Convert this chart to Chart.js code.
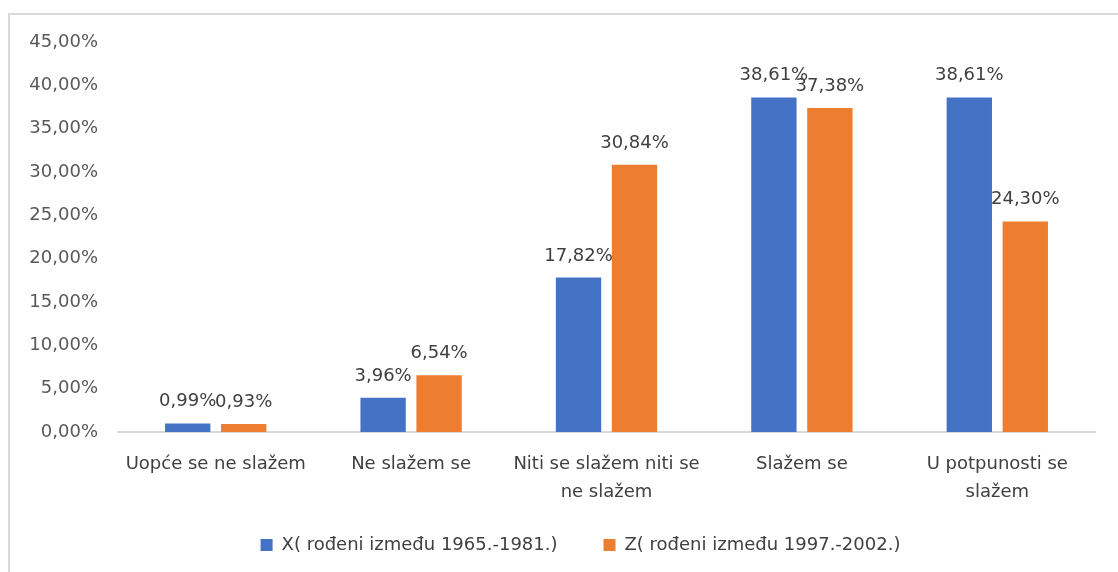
<!DOCTYPE html>
<html>
<head>
<meta charset="utf-8">
<script src="https://cdn.jsdelivr.net/npm/chart.js@4.4.1/dist/chart.umd.min.js"></script>
<style>
    html, body { margin: 0; padding: 0; background: #fff; overflow: hidden; }
    #frame { position: absolute; left: 8px; top: 13px; width: 1200px; height: 700px; border: 2px solid #d9d9d9; box-sizing: border-box; }
    #wrap { position: absolute; left: 0; top: 0; width: 1160px; height: 572px; }
</style>
</head>
<body>
<div id="frame"></div>
<div id="wrap"><canvas id="agreeChart" width="1160" height="572"></canvas></div>
<script>
    // kategorije odgovora
    const categories = [
        'Uopće se ne slažem',
        'Ne slažem se',
        ['Niti se slažem niti se', 'ne slažem'],
        'Slažem se',
        ['U potpunosti se', 'slažem']
    ];
    const seriesNames = ['X( rođeni između 1965.-1981.)', 'Z( rođeni između 1997.-2002.)'];
    const genX = [0.99, 3.96, 17.82, 38.61, 38.61];
    const genZ = [0.93, 6.54, 30.84, 37.38, 24.30];
    const yMax = 45;
    const yStep = 5;

    const fmt = v => v.toFixed(2).replace('.', ',') + '%';
    const FONT = 'DejaVu Sans';

    // labels above bars
    const barLabels = {
        id: 'barLabels',
        afterDatasetsDraw(chart) {
            const ctx = chart.ctx;
            ctx.save();
            ctx.font = '18px "' + FONT + '"';
            ctx.fillStyle = '#404040';
            ctx.textAlign = 'center';
            ctx.textBaseline = 'alphabetic';
            chart.data.datasets.forEach((ds, i) => {
                chart.getDatasetMeta(i).data.forEach((bar, j) => {
                    ctx.fillText(fmt(ds.data[j]), bar.x, bar.y - 17);
                });
            });
            ctx.restore();
        }
    };

    const ctx = document.getElementById('agreeChart').getContext('2d');
    new Chart(ctx, {
        type: 'bar',
        data: {
            labels: categories,
            datasets: [
                {
                    label: seriesNames[0],
                    data: genX,
                    backgroundColor: '#4472C4',
                    categoryPercentage: 0.573,
                    barPercentage: 0.81
                },
                {
                    label: seriesNames[1],
                    data: genZ,
                    backgroundColor: '#ED7D31',
                    categoryPercentage: 0.573,
                    barPercentage: 0.81
                }
            ]
        },
        options: {
            responsive: false,
            animation: false,
            layout: {
                padding: { left: 20, right: 19, top: 42, bottom: 8 }
            },
            plugins: {
                legend: {
                    display: true,
                    position: 'bottom',
                    labels: {
                        boxWidth: 12,
                        boxHeight: 12,
                        padding: 10,
                        color: '#404040',
                        font: { family: FONT, size: 18 },
                        generateLabels(chart) {
                            const items = Chart.defaults.plugins.legend.labels.generateLabels(chart);
                            // extra space between the two entries
                            items[0].text = items[0].text + '\u2003\u2003';
                            return items;
                        }
                    }
                },
                tooltip: { enabled: false }
            },
            scales: {
                y: {
                    min: 0,
                    max: yMax,
                    ticks: {
                        stepSize: yStep,
                        padding: 20,
                        color: '#595959',
                        font: { family: FONT, size: 18 },
                        callback: v => fmt(v)
                    },
                    grid: { display: false, drawTicks: false },
                    border: { display: false },
                    afterFit(scale) { scale.width = 98; }
                },
                // empty space on the right, keeps the legend centred like the original
                yRight: {
                    position: 'right',
                    display: true,
                    ticks: { display: false },
                    grid: { display: false, drawTicks: false },
                    border: { display: false },
                    afterFit(scale) { scale.width = 46; }
                },
                x: {
                    ticks: {
                        padding: 18,
                        color: '#404040',
                        maxRotation: 0,
                        autoSkip: false,
                        font: { family: FONT, size: 18, lineHeight: 1.55 }
                    },
                    grid: { display: false, drawTicks: false },
                    border: { display: true, color: '#d9d9d9', width: 2 },
                    afterFit(scale) { scale.height = 94; }
                }
            }
        },
        plugins: [barLabels]
    });
</script>
</body>
</html>
